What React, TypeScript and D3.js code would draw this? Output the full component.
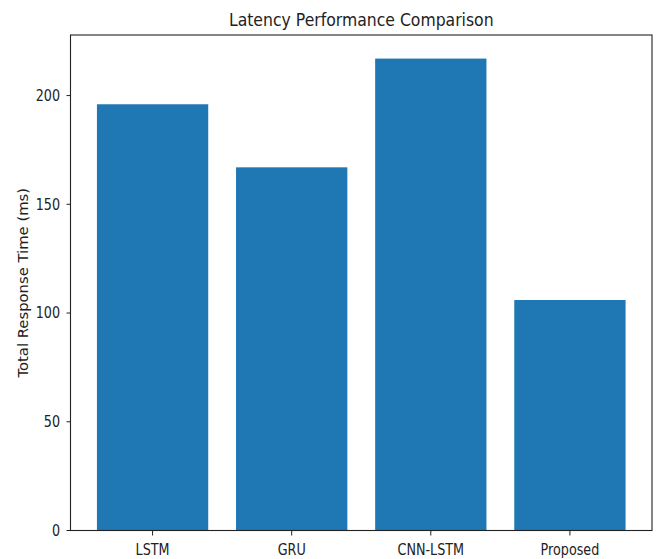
import React from "react";
import * as d3 from "d3";

// Latency per model, in milliseconds
const models: string[] = ["LSTM", "GRU", "CNN-LSTM", "Proposed"];
const latencyMs: number[] = [196, 167, 217, 106];
const yTicks: number[] = [0, 50, 100, 150, 200];

const W = 658;
const H = 559;
const plot = { left: 70.5, right: 652, top: 35, bottom: 530.5 };
const BAR_COLOR = "#1f77b4";
const FONT = "'DejaVu Sans', sans-serif";
const SX = 0.85; // horizontal compression of glyphs

export default function App() {
  const x = d3
    .scaleBand<string>()
    .domain(models)
    .range([plot.left, plot.right])
    .paddingInner(0.2)
    .paddingOuter(0.19)
    .align(0.5);

  const yMax = (d3.max(latencyMs) ?? 0) * 1.05;
  const y = d3.scaleLinear().domain([0, yMax]).range([plot.bottom, plot.top]);

  const cx = (plot.left + plot.right) / 2;
  const cy = (plot.top + plot.bottom) / 2;

  return (
    <svg
      width={W}
      height={H}
      viewBox={`0 0 ${W} ${H}`}
      style={{ position: "absolute", left: 0, top: 0, display: "block", background: "#fff" }}
    >
      <rect x={0} y={0} width={W} height={H} fill="#fff" />

      {/* bars */}
      {models.map((m, i) => (
        <rect
          key={m}
          x={x(m)}
          y={y(latencyMs[i])}
          width={x.bandwidth()}
          height={y(0) - y(latencyMs[i])}
          fill={BAR_COLOR}
        />
      ))}

      {/* frame */}
      <rect
        x={plot.left}
        y={plot.top}
        width={plot.right - plot.left}
        height={plot.bottom - plot.top}
        fill="none"
        stroke="#222"
        strokeWidth={1.1}
      />

      {/* y axis ticks */}
      {yTicks.map((t) => (
        <g key={t}>
          <line x1={plot.left - 4} x2={plot.left} y1={y(t)} y2={y(t)} stroke="#222" strokeWidth={1} />
          <g transform={`translate(${plot.left - 10.5},${y(t)}) scale(${SX},1)`}>
            <text textAnchor="end" dy="0.36em" fontFamily={FONT} fontSize={15} fill="#222">
              {t}
            </text>
          </g>
        </g>
      ))}

      {/* x axis ticks */}
      {models.map((m) => {
        const px = (x(m) ?? 0) + x.bandwidth() / 2;
        return (
          <g key={m}>
            <line x1={px} x2={px} y1={plot.bottom} y2={plot.bottom + 5} stroke="#222" strokeWidth={1} />
            <g transform={`translate(${px},555) scale(${SX},1)`}>
              <text textAnchor="middle" fontFamily={FONT} fontSize={15} fill="#222">
                {m}
              </text>
            </g>
          </g>
        );
      })}

      {/* title */}
      <g transform={`translate(${cx},25.7) scale(0.87,1)`}>
        <text textAnchor="middle" fontFamily={FONT} fontSize={18} fill="#222">
          Latency Performance Comparison
        </text>
      </g>

      {/* y label */}
      <g transform={`translate(28,${cy}) rotate(-90)`}>
        <text textAnchor="middle" fontFamily={FONT} fontSize={14.8} fill="#222">
          Total Response Time (ms)
        </text>
      </g>
    </svg>
  );
}
